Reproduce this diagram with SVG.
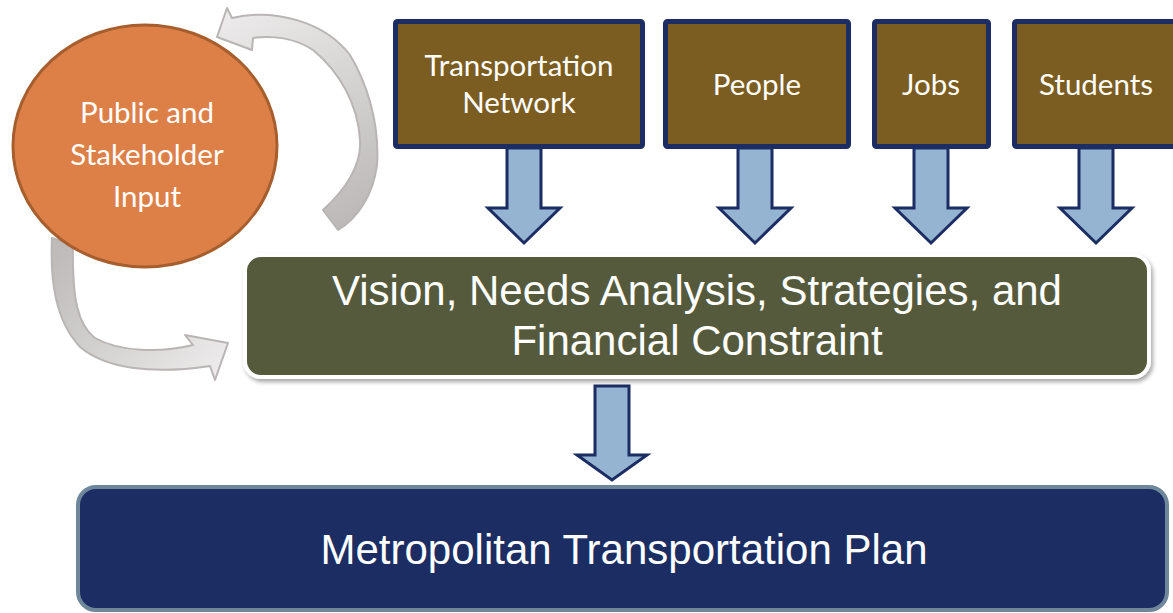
<svg xmlns="http://www.w3.org/2000/svg" width="1173" height="613" viewBox="0 0 1173 613">
<defs>
<style>
.src{fill:#7b5c21;stroke:#1b2d63;stroke-width:5}
.srct{font-family:Lato,"Liberation Sans",sans-serif;font-size:29.5px;fill:#ffffff;text-anchor:middle}
.blk{fill:#95b4d2;stroke:#1b2d63;stroke-width:3;stroke-linejoin:miter}
.big{font-family:"Liberation Sans",Arial,sans-serif;font-size:42px;fill:#ffffff;text-anchor:middle}
.cyc{stroke:#b9b5b5;stroke-width:2;stroke-linejoin:round}
</style>
<linearGradient id="gTop" gradientUnits="userSpaceOnUse" x1="230" y1="20" x2="340" y2="225">
<stop offset="0" stop-color="#ebe9e9"/><stop offset="1" stop-color="#bdb9b9"/>
</linearGradient>
<linearGradient id="gBot" gradientUnits="userSpaceOnUse" x1="60" y1="250" x2="215" y2="365">
<stop offset="0" stop-color="#bfbbbb"/><stop offset="1" stop-color="#ebe9e9"/>
</linearGradient>
<filter id="sh" x="-5%" y="-20%" width="110%" height="150%">
<feDropShadow dx="2" dy="3" stdDeviation="2" flood-color="#000" flood-opacity="0.35"/>
</filter>
</defs>
<rect width="1173" height="613" fill="#ffffff"/>

<g id="connectors">
<path class="cyc" fill="url(#gTop)" d="M232,18 C275,8 325,22 350,55 C365,80 380,120 377,165 C373,195 358,218 338,230 L323,210 C345,190 362,165 360,140 C358,105 340,72 313,50 C295,38 272,35 253,38 L252,50 L217,37 L227,8 Z"/>
<path class="cyc" fill="url(#gBot)" d="M73,245 L52,238 C50,280 55,320 80,347 C105,368 150,375 210,366 L215,380 L228,343 L185,335 L193,345 C160,353 120,352 95,338 C78,325 72,300 73,245 Z"/>
<path class="blk" d="M507,148 V208 H488 L524,243 L560,208 H541 V148 Z"/>
<path class="blk" d="M738,148 V208 H719 L755,243 L791,208 H772 V148 Z"/>
<path class="blk" d="M914,148 V208 H895 L931,243 L967,208 H948 V148 Z"/>
<path class="blk" d="M1079,148 V208 H1060 L1096,243 L1132,208 H1113 V148 Z"/>
<path class="blk" stroke-width="2.5" d="M595,386 V455 H577 L612,480 L647,455 H629 V386 Z"/>
</g>

<g id="public-input">
<ellipse cx="145" cy="146" rx="132" ry="121" fill="#dd8048" stroke="#a65e2e" stroke-width="3"/>
<text class="srct" font-size="34" x="147" y="123">Public and</text>
<text class="srct" font-size="34" x="147" y="165">Stakeholder</text>
<text class="srct" font-size="34" x="147" y="207">Input</text>
</g>

<g id="transportation-network">
<rect class="src" x="395.5" y="21.5" width="247" height="125" rx="2"/>
<text class="srct" x="519" y="76">Transportation</text>
<text class="srct" x="519" y="113">Network</text>
</g>
<g id="people">
<rect class="src" x="665.5" y="21.5" width="183" height="125" rx="2"/>
<text class="srct" x="757" y="95">People</text>
</g>
<g id="jobs">
<rect class="src" x="874.5" y="21.5" width="114" height="125" rx="2"/>
<text class="srct" x="931" y="95">Jobs</text>
</g>
<g id="students">
<rect class="src" x="1014.5" y="21.5" width="170" height="125" rx="2"/>
<text class="srct" x="1096" y="95">Students</text>
</g>

<g id="vision">
<rect x="245" y="255" width="904" height="122" rx="16" fill="#565a3d" stroke="#ffffff" stroke-width="4" filter="url(#sh)"/>
<text class="big" x="697" y="305">Vision, Needs Analysis, Strategies, and</text>
<text class="big" x="697" y="355">Financial Constraint</text>
</g>

<g id="mtp">
<rect x="78" y="487" width="1089" height="123" rx="18" fill="#1b2d63" stroke="#6e879b" stroke-width="4"/>
<text class="big" x="624" y="564">Metropolitan Transportation Plan</text>
</g>
</svg>
